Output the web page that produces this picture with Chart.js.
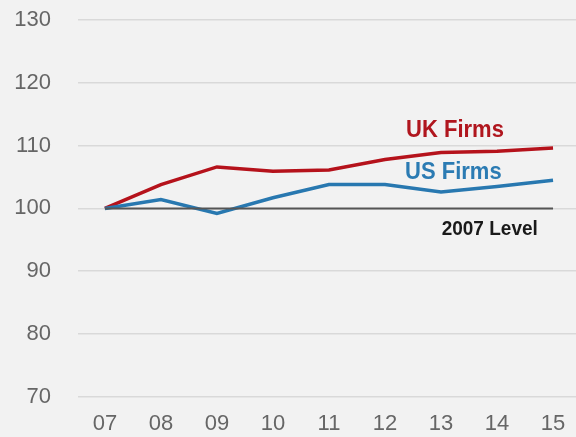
<!DOCTYPE html>
<html>
<head>
<meta charset="utf-8">
<script src="https://cdn.jsdelivr.net/npm/chart.js@4.4.0/dist/chart.umd.min.js"></script>
<style>
  html, body { margin: 0; padding: 0; background: #f2f2f2; }
  #wrap { width: 576px; height: 437px; }
</style>
</head>
<body>
<div id="wrap"><canvas id="firmsChart"></canvas></div>
<script>
  // years on the x axis (2007..2015)
  const years = [7, 8, 9, 10, 11, 12, 13, 14, 15];
  const yearLabels = ["07", "08", "09", "10", "11", "12", "13", "14", "15"];
  const ukFirms = [100, 103.8, 106.6, 105.9, 106.1, 107.8, 108.9, 109.1, 109.6];
  const usFirms = [100, 101.4, 99.2, 101.7, 103.8, 103.8, 102.6, 103.5, 104.5];
  const baseLevel = [100, 100, 100, 100, 100, 100, 100, 100, 100];
  const yTicks = [70, 80, 90, 100, 110, 120, 130];

  const toPoints = vals => vals.map((v, i) => ({ x: years[i], y: v }));

  // text labels placed at data positions; sy stretches the glyphs vertically
  const seriesLabels = [
    { text: "UK Firms", x: 13.25, y: 112.4, color: "#b0161e", font: "bold 22px 'Liberation Sans', Arial, sans-serif", sy: 1.12 },
    { text: "US Firms", x: 13.22, y: 105.8, color: "#2b7bb3", font: "bold 22px 'Liberation Sans', Arial, sans-serif", sy: 1.12 },
    { text: "2007 Level", x: 13.87, y: 96.65, color: "#1a1a1a", font: "bold 19px 'Liberation Sans', Arial, sans-serif", sy: 1.1 }
  ];

  const labelPlugin = {
    id: "seriesLabels",
    afterDatasetsDraw(chart) {
      const { ctx, scales } = chart;
      seriesLabels.forEach(l => {
        ctx.save();
        ctx.translate(scales.x.getPixelForValue(l.x), scales.y.getPixelForValue(l.y));
        ctx.scale(1, l.sy);
        ctx.textAlign = "center";
        ctx.textBaseline = "middle";
        ctx.font = l.font;
        ctx.fillStyle = l.color;
        ctx.fillText(l.text, 0, 0);
        ctx.restore();
      });
    }
  };

  const tickFont = { family: "'Liberation Sans', Arial, sans-serif", size: 22 };

  const ctx = document.getElementById("firmsChart").getContext("2d");
  new Chart(ctx, {
    type: "line",
    data: {
      datasets: [
        { label: "2007 Level", data: toPoints(baseLevel), borderColor: "#555555", borderWidth: 2, pointRadius: 0 },
        { label: "US Firms", data: toPoints(usFirms), borderColor: "#2878b0", borderWidth: 3.5, pointRadius: 0 },
        { label: "UK Firms", data: toPoints(ukFirms), borderColor: "#b5121b", borderWidth: 3.5, pointRadius: 0 }
      ]
    },
    options: {
      responsive: true,
      maintainAspectRatio: false,
      animation: false,
      layout: { padding: { top: 20, right: 0, left: 0, bottom: 0 } },
      plugins: { legend: { display: false }, tooltip: { enabled: false } },
      scales: {
        x: {
          type: "linear",
          min: 6.52,
          max: 15.41,
          afterBuildTicks: s => { s.ticks = years.map(v => ({ value: v })); },
          afterFit: s => { s.height = 40; },
          grid: { display: false },
          border: { display: false },
          ticks: {
            color: "#666666",
            padding: 6,
            maxRotation: 0,
            font: tickFont,
            callback: v => yearLabels[years.indexOf(v)]
          }
        },
        y: {
          min: 70,
          max: 130,
          afterBuildTicks: s => { s.ticks = yTicks.map(v => ({ value: v })); },
          // fixed axis width; drop the extra top padding the tick offset adds
          afterFit: s => { s.width = 78; s.paddingTop = 0; },
          grid: { color: "#d9d9d9", lineWidth: 1.5, drawTicks: false },
          border: { display: false },
          ticks: {
            color: "#666666",
            padding: 27,
            font: tickFont
          }
        }
      }
    },
    plugins: [labelPlugin]
  });
</script>
</body>
</html>
